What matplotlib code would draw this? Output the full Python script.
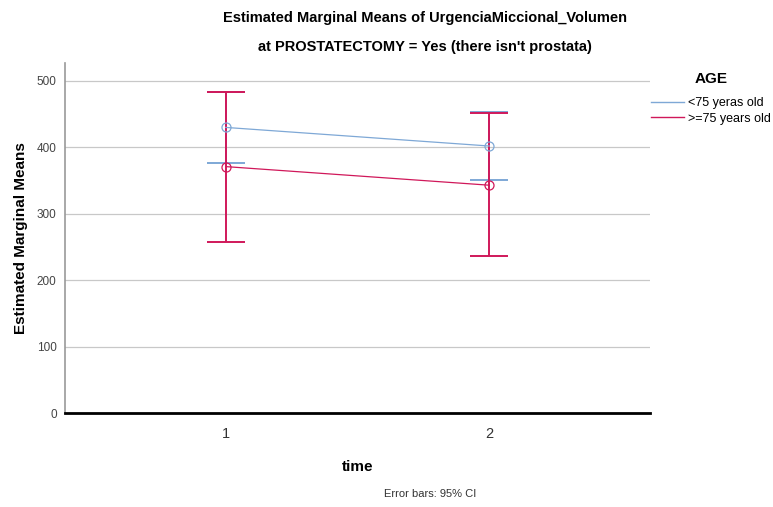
import matplotlib.pyplot as plt
from matplotlib.lines import Line2D

plt.rcParams["font.family"] = ["Liberation Sans", "DejaVu Sans"]

# estimated marginal means with 95% CI bounds
times = [1, 2]
age_groups = ["<75 yeras old", ">=75 years old"]
mean_young = [430, 402]
lower_young = [376, 351]
upper_young = [484, 453]
mean_old = [371, 343]
lower_old = [257, 236]
upper_old = [484, 451]
yticks = [0, 100, 200, 300, 400, 500]

blue = "#7ea8d6"
red = "#d0185a"

fig = plt.figure(figsize=(7.73, 5.07), dpi=100)
W, H = 773, 507
ax = fig.add_axes([65 / W, (H - 413) / H, 585 / W, 350 / H])

series = [
    (mean_young, lower_young, upper_young, blue, 2),
    (mean_old, lower_old, upper_old, red, 3),
]
for mean, lo, hi, col, z in series:
    err = [[m - l for m, l in zip(mean, lo)], [h - m for m, h in zip(mean, hi)]]
    ax.errorbar(times, mean, yerr=err, fmt="none", ecolor=col, elinewidth=1.4,
                capsize=14, capthick=1.4, zorder=z)
    ax.plot(times, mean, color=col, lw=0.9, marker="o", markersize=6.5,
            markerfacecolor="none", markeredgewidth=0.9, zorder=z + 2)

ax.set_xlim(0.39, 2.61)
ax.set_ylim(0, 527)
ax.set_xticks(times)
ax.set_xticklabels([str(t) for t in times], fontsize=10.5, color="#333333")
ax.set_yticks(yticks)
ax.set_yticklabels([str(v) for v in yticks], fontsize=8.5, color="#444444")
ax.tick_params(axis="both", length=0)
ax.tick_params(axis="x", pad=10)
ax.tick_params(axis="y", pad=6)
ax.grid(axis="y", color="#c8c8c8", lw=0.9)
ax.set_axisbelow(True)
for s in ["top", "right"]:
    ax.spines[s].set_visible(False)
ax.spines["left"].set_color("#999999")
ax.spines["left"].set_linewidth(1.2)
ax.spines["bottom"].set_color("black")
ax.spines["bottom"].set_linewidth(2)
ax.spines["bottom"].set_zorder(10)

ax.set_ylabel("Estimated Marginal Means", fontsize=11, fontweight="bold", labelpad=6)
ax.set_xlabel("time", fontsize=11, fontweight="bold", labelpad=14)

fig.text(425 / W, 1 - 18 / H, "Estimated Marginal Means of UrgenciaMiccional_Volumen",
         ha="center", va="center", fontsize=10.5, fontweight="bold")
fig.text(425 / W, 1 - 47 / H, "at PROSTATECTOMY = Yes (there isn't prostata)",
         ha="center", va="center", fontsize=10.5, fontweight="bold")
fig.text(430 / W, 1 - 494 / H, "Error bars: 95% CI", ha="center", va="center",
         fontsize=8, color="#333333")

handles = [Line2D([], [], color=blue, lw=1), Line2D([], [], color=red, lw=1)]
leg = fig.legend(handles, age_groups, title="AGE", loc="upper left",
                 bbox_to_anchor=(646 / W, 1 - 67 / H), frameon=False, fontsize=9,
                 handlelength=2.6, handletextpad=0.4, labelspacing=0.3,
                 borderaxespad=0.0)
leg.get_title().set_fontweight("bold")
leg.get_title().set_fontsize(11)
leg._legend_box.sep = 8

fig.savefig("out.png", dpi=100)
